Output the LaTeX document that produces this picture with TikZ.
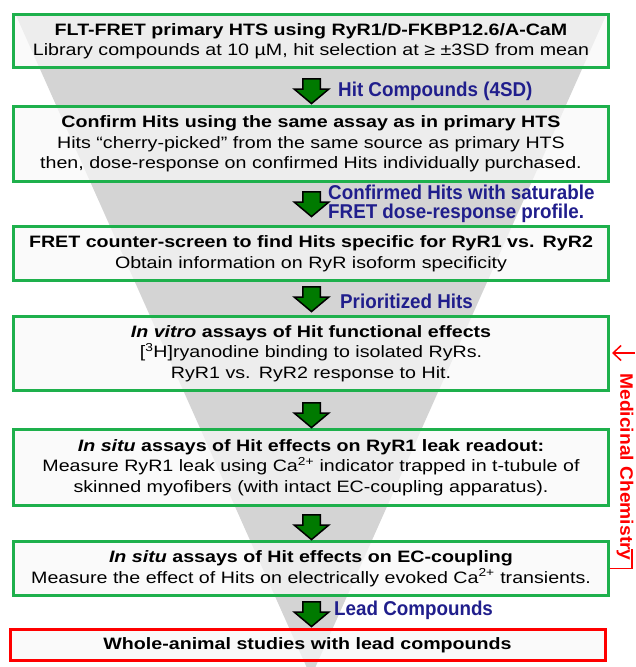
\documentclass[tikz,border=0pt]{standalone}
\usepackage{fontspec}
\setmainfont{Liberation Sans}[FakeStretch=1.19]
\newfontfamily\lblfont{Liberation Sans}[FakeStretch=0.94]
\newfontfamily\mcfont{Liberation Sans}[FakeStretch=1.07]
\usetikzlibrary{shapes.arrows,arrows.meta}
\definecolor{boxgreen}{RGB}{30,176,76}
\definecolor{arrowgreen}{RGB}{0,122,0}
\definecolor{lblblue}{RGB}{32,30,140}
\definecolor{funnelgray}{RGB}{212,212,212}
\definecolor{boxfill}{RGB}{248,248,248}
\begin{document}
\begin{tikzpicture}[x=1pt,y=-1pt,
  stagebox/.style={draw=boxgreen, line width=3pt, fill=boxfill, fill opacity=0.7, text opacity=1,
    text width=588pt, inner xsep=3.5pt, inner ysep=0pt, align=center,
    font=\fontsize{16.5}{20.5}\selectfont},
  downarrow/.style={single arrow, draw=black, line width=1.5pt, fill=arrowgreen,
    inner sep=8pt, minimum height=24pt, single arrow head extend=8.5pt,
    single arrow head indent=0pt, single arrow tip angle=100, shape border rotate=270},
  lbl/.style={anchor=west, text=lblblue, font=\lblfont\bfseries\fontsize{20}{18.5}\selectfont,
    inner sep=0pt, align=left}]
\fill[white] (0,0) rectangle (635,667);
\useasboundingbox (0,0) rectangle (635,667);
\begin{scope}
\clip (0,0) rectangle (635,667);
\fill[funnelgray] (15,13) -- (607,13) -- (311,677) -- cycle;
\end{scope}

\node[stagebox, minimum height=53pt] (b1) at (311,41)
  {\textbf{FLT-FRET primary HTS using RyR1/D-FKBP12.6/A-CaM}\\Library compounds at 10 µM, hit selection at ≥ ±3SD from mean};
\node[stagebox, minimum height=75pt] (b2) at (311,144)
  {\textbf{Confirm Hits using the same assay as in primary HTS}\\Hits “cherry-picked” from the same source as primary HTS\\then, dose-response on confirmed Hits individually purchased.};
\node[stagebox, minimum height=54pt] (b3) at (311,253.5)
  {\textbf{FRET counter-screen to find Hits specific for RyR1 vs. RyR2}\\Obtain information on RyR isoform specificity};
\node[stagebox, minimum height=74pt] (b4) at (311,353.5)
  {\textbf{\textit{In vitro} assays of Hit functional effects}\\{[}\textsuperscript{3}H{]}ryanodine binding to isolated RyRs.\\RyR1 vs. RyR2 response to Hit.};
\node[stagebox, minimum height=76pt] (b5) at (311,467.5)
  {\textbf{\textit{In situ} assays of Hit effects on RyR1 leak readout:}\\Measure RyR1 leak using Ca\textsuperscript{2+} indicator trapped in t-tubule of\\skinned myofibers (with intact EC-coupling apparatus).};
\node[stagebox, minimum height=54pt] (b6) at (311,568.5)
  {\textbf{\textit{In situ} assays of Hit effects on EC-coupling}\\Measure the effect of Hits on electrically evoked Ca\textsuperscript{2+} transients.};
\node[stagebox, draw=red, minimum height=31pt] (b7) at (307.5,645)
  {\textbf{Whole-animal studies with lead compounds}};

\node[downarrow] (a1) at (311.5,87.5) {};
\node[downarrow] (a2) at (311.5,200.5) {};
\node[downarrow] (a3) at (311.5,295.5) {};
\node[downarrow] (a4) at (311.5,411.5) {};
\node[downarrow] (a5) at (311.5,523.5) {};
\node[downarrow] (a6) at (311.5,610.5) {};

\node[lbl] (l1) at (338,91) {Hit Compounds (4SD)};
\node[lbl] (l2) at (328,204) {Confirmed Hits with saturable\\FRET dose-response profile.};
\node[lbl] (l3) at (340,301) {Prioritized Hits};
\node[lbl] (l6) at (334,610) {Lead Compounds};

\node[rotate=-90, text=red, font=\mcfont\bfseries\fontsize{18}{20}\selectfont, inner sep=0pt] (mc) at (625,467) {Medicinal Chemistry};
\coordinate (mcin) at (635,353);
\draw[red, line width=1.5pt, -{Straight Barb[length=8pt,width=15pt]}] (mcin) -- ([xshift=2pt]b4.east |- mcin);
\draw[red, line width=1.5pt] (b6.east) -- ++(22,0) -- ++(0,-20);
\end{tikzpicture}
\end{document}
